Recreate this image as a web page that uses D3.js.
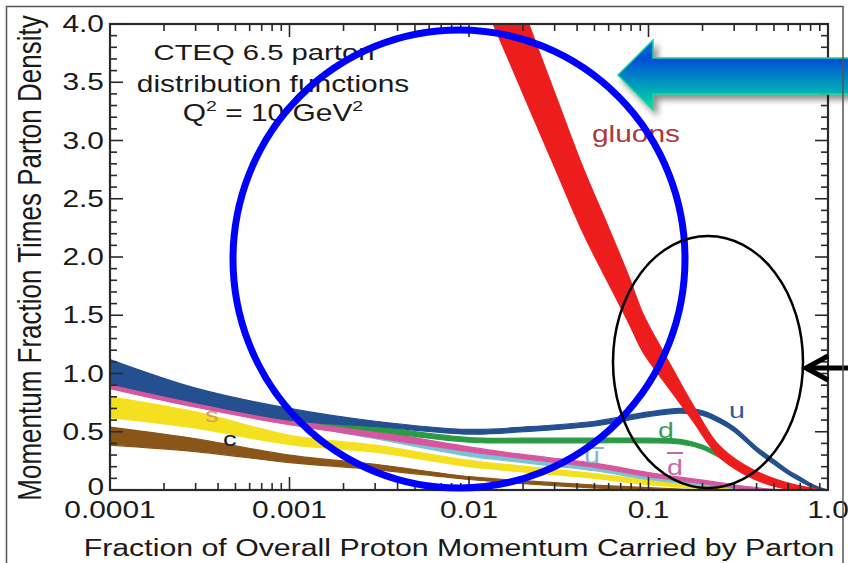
<!DOCTYPE html>
<html>
<head>
<meta charset="utf-8">
<script src="https://cdn.jsdelivr.net/npm/d3@7"></script>
<style>
  html, body { margin: 0; padding: 0; background: #fff; }
  svg { display: block; }
</style>
</head>
<body>
<script>
// ---- Parton distributions x·f(x) at Q^2 = 10 GeV^2 (uncertainty bands: lo / hi) ----
const quarkX = [1e-4, 3e-4, 1e-3, 3e-3, 0.01, 0.02, 0.05, 0.1, 0.15, 0.2, 0.25, 0.3, 0.4, 0.5, 0.6, 0.7, 0.8, 0.9, 1.0];

const uLo    = [0.91, 0.75, 0.60, 0.545, 0.48, 0.50, 0.55, 0.63, 0.66, 0.64, 0.575, 0.50, 0.33, 0.22, 0.135, 0.075, 0.03, 0.005, 0];
const uHi    = [1.12, 0.875, 0.70, 0.59, 0.52, 0.54, 0.59, 0.67, 0.70, 0.68, 0.615, 0.54, 0.37, 0.26, 0.17, 0.11, 0.055, 0.02, 0];

const dLo    = [0.92, 0.76, 0.61, 0.505, 0.41, 0.405, 0.405, 0.405, 0.395, 0.35, 0.275, 0.205, 0.10, 0.04, 0.012, 0, 0, 0, 0];
const dHi    = [1.08, 0.86, 0.68, 0.55, 0.45, 0.445, 0.445, 0.445, 0.435, 0.385, 0.31, 0.235, 0.125, 0.06, 0.025, 0.008, 0, 0, 0];

const dbarLo = [0.87, 0.71, 0.56, 0.45, 0.33, 0.27, 0.195, 0.115, 0.08, 0.055, 0.035, 0.02, 0.002, 0, 0, 0, 0, 0, 0];
const dbarHi = [0.99, 0.81, 0.645, 0.51, 0.37, 0.305, 0.23, 0.15, 0.11, 0.085, 0.063, 0.045, 0.02, 0.005, 0, 0, 0, 0, 0];

const ubarLo = [0.88, 0.72, 0.57, 0.44, 0.29, 0.235, 0.165, 0.09, 0.06, 0.04, 0.025, 0.012, 0, 0, 0, 0, 0, 0, 0];
const ubarHi = [0.97, 0.80, 0.63, 0.48, 0.325, 0.27, 0.195, 0.115, 0.08, 0.06, 0.044, 0.03, 0.01, 0.002, 0, 0, 0, 0, 0];

const sLo    = [0.62, 0.53, 0.39, 0.325, 0.20, 0.155, 0.10, 0.045, 0.025, 0.012, 0.005, 0, 0, 0, 0, 0, 0, 0, 0];
const sHi    = [0.80, 0.67, 0.47, 0.385, 0.255, 0.205, 0.14, 0.085, 0.055, 0.035, 0.022, 0.012, 0.003, 0, 0, 0, 0, 0, 0];

const cLo    = [0.386, 0.33, 0.235, 0.175, 0.09, 0.055, 0.018, 0, 0, 0, 0, 0, 0, 0, 0, 0, 0, 0, 0];
const cHi    = [0.54, 0.44, 0.30, 0.22, 0.115, 0.08, 0.043, 0.02, 0.008, 0, 0, 0, 0, 0, 0, 0, 0, 0, 0];

const gluonX  = [0.012, 0.0174, 0.03, 0.0431, 0.06, 0.0778, 0.093, 0.12, 0.137, 0.177, 0.244, 0.345, 0.54, 0.85, 1.0];
const gluonLo = [4.20, 3.62, 2.77, 2.21, 1.77, 1.43, 1.185, 0.945, 0.825, 0.59, 0.293, 0.132, 0.02, 0, 0];
const gluonHi = [5.04, 4.38, 3.41, 2.77, 2.25, 1.83, 1.515, 1.195, 1.035, 0.73, 0.393, 0.212, 0.08, 0.01, 0];

// axis ticks
const xTickValues = [1e-4, 1e-3, 1e-2, 1e-1, 1];
const xTickLabels = ["0.0001", "0.001", "0.01", "0.1", "1.0"];
const yTickValues = [0, 0.5, 1, 1.5, 2, 2.5, 3, 3.5, 4];
const yTickLabels = ["0", "0.5", "1.0", "1.5", "2.0", "2.5", "3.0", "3.5", "4.0"];

// ---- layout ----
const W = 848, H = 563;
const SX = 1.3;                       // lettering is set wide
const FONT = "'Liberation Sans', Arial, Helvetica, sans-serif";

const svg = d3.select("body").append("svg")
  .attr("width", W).attr("height", H)
  .style("font-family", FONT);

svg.append("rect").attr("width", W).attr("height", H).attr("fill", "#fff");

const x = d3.scaleLog().domain([1e-4, 1]).range([110, 828]);
const y = d3.scaleLinear().domain([0, 4]).range([490, 24]);

const defs = svg.append("defs");
defs.append("clipPath").attr("id", "plotClip")
  .append("rect")
  .attr("x", x.range()[0]).attr("y", y.range()[1])
  .attr("width", x.range()[1] - x.range()[0])
  .attr("height", y.range()[0] - y.range()[1]);

// ---- bands ----
function bandRows(xs, lo, hi) {
  return xs.map((v, i) => ({ x: v, lo: lo[i], hi: hi[i] }));
}
const area = d3.area()
  .x(d => x(d.x))
  .y0(d => y(d.lo))
  .y1(d => y(d.hi))
  .curve(d3.curveCatmullRom.alpha(0.5));

const series = [
  { name: "c",    color: "#8a5518", rows: bandRows(quarkX, cLo, cHi) },
  { name: "s",    color: "#f4e01f", rows: bandRows(quarkX, sLo, sHi) },
  { name: "ubar", color: "#79c3d4", rows: bandRows(quarkX, ubarLo, ubarHi) },
  { name: "dbar", color: "#d7579f", rows: bandRows(quarkX, dbarLo, dbarHi) },
  { name: "d",    color: "#2b9a45", rows: bandRows(quarkX, dLo, dHi) },
  { name: "u",    color: "#24508f", rows: bandRows(quarkX, uLo, uHi) },
  { name: "g",    color: "#ee1d1d", rows: bandRows(gluonX, gluonLo, gluonHi) }
];

const plot = svg.append("g").attr("clip-path", "url(#plotClip)");
plot.selectAll("path.band")
  .data(series)
  .join("path")
  .attr("class", "band")
  .attr("fill", d => d.color)
  .attr("stroke", d => d.color)
  .attr("stroke-width", 1.2)
  .attr("stroke-linejoin", "round")
  .attr("d", d => area(d.rows));

// ---- wide text helper ----
function wideText(parent, str, px, py, size, anchor, color, rot) {
  const t = parent.append("text")
    .attr("transform", `translate(${px},${py}) scale(${SX},1)` + (rot ? ` rotate(${rot})` : ""))
    .attr("font-size", size)
    .attr("text-anchor", anchor || "start")
    .attr("fill", color || "#1a1a1a");
  if (str !== null) t.text(str);
  return t;
}

// ---- curve labels ----
const labels = svg.append("g");
wideText(labels, "s", 205, 422, 21, "start", "#d49a5c");
wideText(labels, "c", 223, 446, 21, "start", "#1a1a1a");
wideText(labels, "u", 729, 418, 22, "start", "#2e5a96");
wideText(labels, "d", 658, 438, 22, "start", "#3f9a55");
wideText(labels, "d", 667, 475, 22, "start", "#c569a8");
labels.append("line").attr("x1", 667).attr("x2", 683).attr("y1", 453).attr("y2", 453)
  .attr("stroke", "#c569a8").attr("stroke-width", 2);
wideText(labels, "u", 584, 463, 22, "start", "#86b4cf");
labels.append("line").attr("x1", 583).attr("x2", 604).attr("y1", 448).attr("y2", 448)
  .attr("stroke", "#86b4cf").attr("stroke-width", 2);
wideText(labels, "gluons", 592, 142, 23, "start", "#b0373b");

// ---- axes frame and ticks ----
const axes = svg.append("g").attr("stroke", "#2a2a2a");
const [xl, xr] = x.range();
const [yb, yt] = y.range();
axes.append("rect")
  .attr("x", xl).attr("y", yt).attr("width", xr - xl).attr("height", yb - yt)
  .attr("fill", "none").attr("stroke-width", 2.2);

const isMajorX = v => Math.abs(Math.log10(v) - Math.round(Math.log10(v))) < 1e-9;
x.ticks().forEach(v => {
  const len = isMajorX(v) ? 13 : 7;
  const px = x(v);
  axes.append("line").attr("x1", px).attr("x2", px).attr("y1", yb).attr("y2", yb - len).attr("stroke-width", 1.6);
  axes.append("line").attr("x1", px).attr("x2", px).attr("y1", yt).attr("y2", yt + len).attr("stroke-width", 1.6);
});
y.ticks(40).forEach(v => {
  const major = Math.abs(v * 2 - Math.round(v * 2)) < 1e-9;
  const len = major ? 13 : 7;
  const py = y(v);
  axes.append("line").attr("x1", xl).attr("x2", xl + len).attr("y1", py).attr("y2", py).attr("stroke-width", 1.6);
  axes.append("line").attr("x1", xr).attr("x2", xr - len).attr("y1", py).attr("y2", py).attr("stroke-width", 1.6);
});

// tick labels (the zero label sits a little raised, clear of the x labels)
const tickText = svg.append("g");
xTickValues.forEach((v, i) => wideText(tickText, xTickLabels[i], x(v), 518, 23, "middle", "#1a1a1a"));
yTickValues.forEach((v, i) => wideText(tickText, yTickLabels[i], 104, y(v) + (v === 0 ? 5 : 8), 23, "end", "#1a1a1a"));

// axis titles
wideText(svg, "Fraction of Overall Proton Momentum Carried by Parton", 459, 556, 23.3, "middle", "#1a1a1a");
wideText(svg, "Momentum Fraction Times Parton Density", 41, 258, 26, "middle", "#1a1a1a", -90);

// title block
wideText(svg, "CTEQ 6.5 parton", 264, 60, 22.5, "middle", "#1a1a1a");
wideText(svg, "distribution functions", 273, 92, 23, "middle", "#1a1a1a");
const q = wideText(svg, null, 273, 121, 23, "middle", "#1a1a1a");
q.append("tspan").text("Q");
q.append("tspan").attr("dy", -10).attr("font-size", 15).text("2");
q.append("tspan").attr("dy", 10).text("  = 10 GeV");
q.append("tspan").attr("dy", -10).attr("font-size", 15).text("2");

// ---- call-outs ----
const shadow = defs.append("filter").attr("id", "arrowShadow")
  .attr("x", "-10%").attr("y", "-30%").attr("width", "130%").attr("height", "170%");
shadow.append("feDropShadow").attr("dx", 4).attr("dy", 5).attr("stdDeviation", 3)
  .attr("flood-color", "#000").attr("flood-opacity", 0.45);

const grad = defs.append("linearGradient").attr("id", "arrowFill")
  .attr("gradientUnits", "userSpaceOnUse")
  .attr("x1", 0).attr("y1", 40).attr("x2", 0).attr("y2", 110);
grad.append("stop").attr("offset", "0%").attr("stop-color", "#0a6fd0");
grad.append("stop").attr("offset", "28%").attr("stop-color", "#0050d8");
grad.append("stop").attr("offset", "78%").attr("stop-color", "#00b8b0");
grad.append("stop").attr("offset", "100%").attr("stop-color", "#10e0a0");

svg.append("path")
  .attr("d", "M618,75 L653,40 L653,58 L852,58 L852,94 L653,94 L653,110 Z")
  .attr("fill", "url(#arrowFill)")
  .attr("stroke", "#19d49a").attr("stroke-width", 1.5)
  .attr("filter", "url(#arrowShadow)");

svg.append("ellipse")
  .attr("cx", 459).attr("cy", 259).attr("rx", 226).attr("ry", 229)
  .attr("fill", "none").attr("stroke", "#0000ff").attr("stroke-width", 7);

svg.append("ellipse")
  .attr("cx", 708).attr("cy", 362).attr("rx", 95).attr("ry", 126)
  .attr("fill", "none").attr("stroke", "#000").attr("stroke-width", 2.5);

svg.append("line").attr("x1", 852).attr("x2", 808).attr("y1", 368).attr("y2", 368)
  .attr("stroke", "#000").attr("stroke-width", 5);
svg.append("polyline").attr("points", "828,356 806,368 828,380")
  .attr("fill", "none").attr("stroke", "#000").attr("stroke-width", 5);

// page border
svg.append("rect").attr("x", 6.5).attr("y", 6.5).attr("width", 836.5).attr("height", 570)
  .attr("fill", "none").attr("stroke", "#555").attr("stroke-width", 1.5);
</script>
</body>
</html>
